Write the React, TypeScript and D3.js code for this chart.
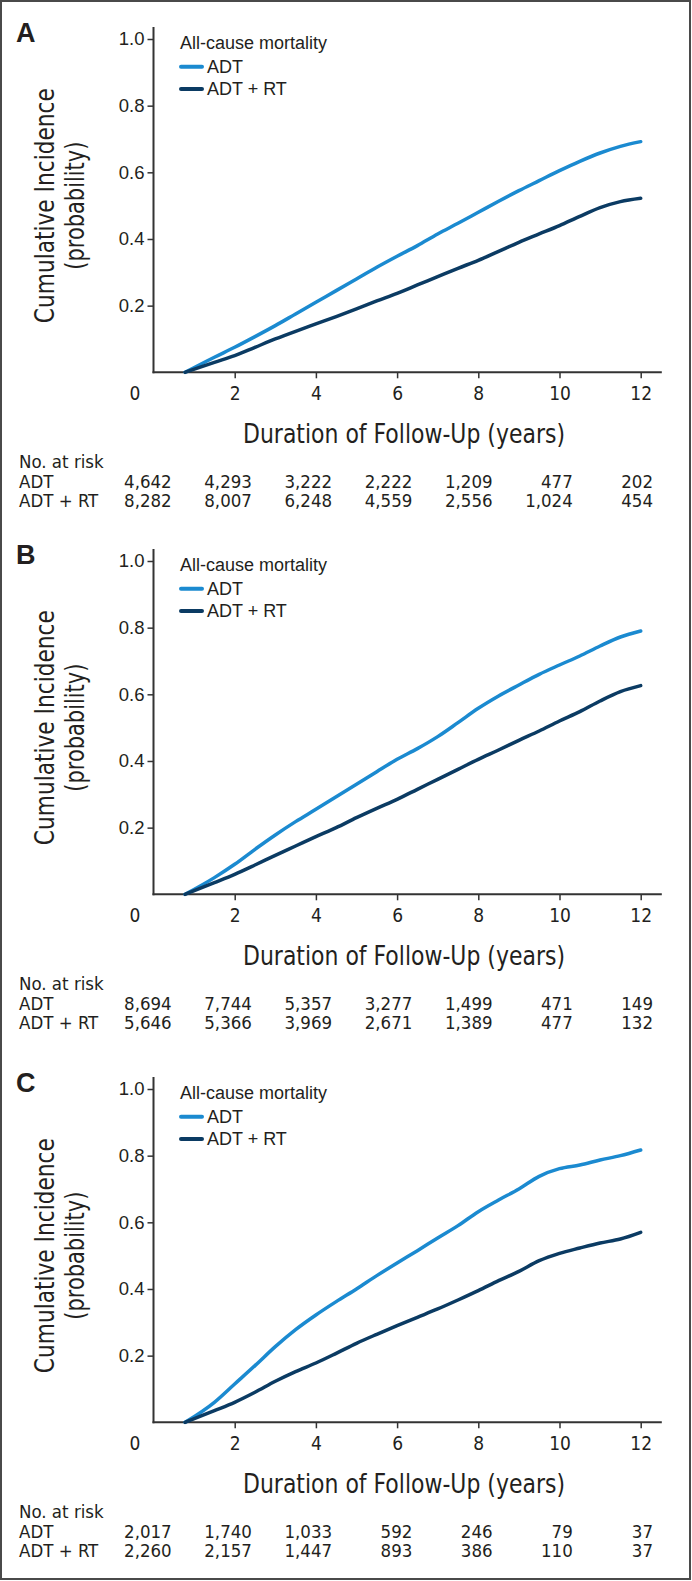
import React, { useEffect, useRef } from "react";
import * as d3 from "d3";

const times = [0.78, 1.5, 2, 2.5, 3, 3.5, 4, 4.5, 5, 5.5, 6, 6.5, 7, 7.5, 8, 8.5, 9, 9.5, 10, 10.5, 11, 11.5, 12];

const panelA_adt = [0, 0.045, 0.075, 0.107, 0.14, 0.175, 0.21, 0.245, 0.28, 0.315, 0.348, 0.38, 0.415, 0.447, 0.48, 0.513, 0.545, 0.575, 0.605, 0.633, 0.658, 0.678, 0.692];
const panelA_adtrt = [0, 0.03, 0.05, 0.075, 0.1, 0.123, 0.145, 0.167, 0.19, 0.214, 0.237, 0.262, 0.287, 0.312, 0.336, 0.363, 0.39, 0.415, 0.44, 0.468, 0.494, 0.512, 0.522];

const panelB_adt = [0, 0.05, 0.09, 0.135, 0.178, 0.218, 0.255, 0.293, 0.33, 0.368, 0.405, 0.437, 0.473, 0.515, 0.558, 0.595, 0.628, 0.66, 0.688, 0.715, 0.745, 0.772, 0.79];
const panelB_adtrt = [0, 0.035, 0.06, 0.088, 0.117, 0.145, 0.173, 0.2, 0.23, 0.258, 0.285, 0.315, 0.345, 0.375, 0.405, 0.433, 0.462, 0.49, 0.52, 0.548, 0.58, 0.608, 0.626];

const panelC_adt = [0, 0.06, 0.115, 0.17, 0.227, 0.278, 0.322, 0.362, 0.4, 0.44, 0.478, 0.515, 0.553, 0.59, 0.632, 0.667, 0.7, 0.738, 0.761, 0.772, 0.787, 0.8, 0.817];
const panelC_adtrt = [0, 0.035, 0.06, 0.09, 0.123, 0.152, 0.178, 0.207, 0.237, 0.264, 0.29, 0.315, 0.34, 0.367, 0.395, 0.425, 0.453, 0.485, 0.507, 0.523, 0.538, 0.55, 0.57];

// number at risk tables
const riskYears = [0, 2, 4, 6, 8, 10, 12];
const riskA_adt = ["4,642", "4,293", "3,222", "2,222", "1,209", "477", "202"];
const riskA_adtrt = ["8,282", "8,007", "6,248", "4,559", "2,556", "1,024", "454"];
const riskB_adt = ["8,694", "7,744", "5,357", "3,277", "1,499", "471", "149"];
const riskB_adtrt = ["5,646", "5,366", "3,969", "2,671", "1,389", "477", "132"];
const riskC_adt = ["2,017", "1,740", "1,033", "592", "246", "79", "37"];
const riskC_adtrt = ["2,260", "2,157", "1,447", "893", "386", "110", "37"];

const xTicks = [2, 4, 6, 8, 10, 12];
const yTicks = [0.2, 0.4, 0.6, 0.8, 1.0];
const seriesNames = ["ADT", "ADT + RT"];
const seriesColors = ["#1b8ad0", "#0b3b63"];

const panels = [
  { label: "A", offset: 0, curves: [panelA_adt, panelA_adtrt], risk: [riskA_adt, riskA_adtrt] },
  { label: "B", offset: 522, curves: [panelB_adt, panelB_adtrt], risk: [riskB_adt, riskB_adtrt] },
  { label: "C", offset: 1050, curves: [panelC_adt, panelC_adtrt], risk: [riskC_adt, riskC_adtrt] },
];

const NARROW = "'Liberation Sans Narrow', 'Arial Narrow', 'DejaVu Sans Condensed', sans-serif";
const REG = "'Liberation Sans', Arial, Helvetica, sans-serif";
const INK = "#231f20";

export default function App() {
  const svgRef = useRef<SVGSVGElement | null>(null);

  useEffect(() => {
    const width = 692;
    const height = 1581;
    const svg = d3.select(svgRef.current).attr("width", width).attr("height", height);
    svg.selectAll("*").remove();

    svg.append("rect").attr("width", width).attr("height", height).attr("fill", "#fff");
    svg
      .append("rect")
      .attr("x", 1)
      .attr("y", 1)
      .attr("width", width - 3)
      .attr("height", height - 3)
      .attr("fill", "none")
      .attr("stroke", "#4a4a4a")
      .attr("stroke-width", 2);

    const x = d3.scaleLinear().domain([0, 12]).range([153.5, 640.7]);
    const y = d3.scaleLinear().domain([0, 1]).range([372.3, 39]);
    // columns of the risk table (right aligned)
    const riskX = d3.scaleLinear().domain([0, 12]).range([171.7, 653]);

    panels.forEach((p) => {
      const g = svg.append("g").attr("transform", `translate(0, ${p.offset})`);

      // panel letter
      g.append("text")
        .attr("x", 16)
        .attr("y", 42)
        .attr("font-family", REG)
        .attr("font-weight", "bold")
        .attr("font-size", 27)
        .attr("fill", INK)
        .text(p.label);

      // y axis
      const yAxis = g
        .append("g")
        .attr("transform", `translate(${x(0)}, 0)`)
        .call(
          d3.axisLeft(y).tickValues(yTicks).tickSize(6).tickPadding(3).tickFormat(d3.format(".1f"))
        );
      yAxis.select(".domain").remove();
      yAxis.selectAll("line").attr("stroke", "#333").attr("stroke-width", 1.5);
      yAxis
        .selectAll("text")
        .attr("font-family", REG)
        .attr("font-size", 18.5)
        .attr("fill", INK);

      // x axis
      const xAxis = g
        .append("g")
        .attr("transform", `translate(0, ${y(0)})`)
        .call(d3.axisBottom(x).tickValues(xTicks).tickSize(6).tickPadding(8).tickFormat(d3.format("d")));
      xAxis.select(".domain").remove();
      xAxis.selectAll("line").attr("stroke", "#333").attr("stroke-width", 1.5);
      xAxis
        .selectAll("text")
        .attr("font-family", NARROW)
        .attr("font-size", 19)
        .attr("fill", INK);

      // "0" label sits left of the corner
      g.append("text")
        .attr("x", 135)
        .attr("y", y(0) + 28)
        .attr("text-anchor", "middle")
        .attr("font-family", NARROW)
        .attr("font-size", 19)
        .attr("fill", INK)
        .text("0");

      // axis lines
      g.append("line")
        .attr("x1", x(0))
        .attr("x2", x(0))
        .attr("y1", y(1.036))
        .attr("y2", y(0) + 1)
        .attr("stroke", "#333")
        .attr("stroke-width", 2);
      g.append("line")
        .attr("x1", x(0) - 1)
        .attr("x2", x(12.52))
        .attr("y1", y(0))
        .attr("y2", y(0))
        .attr("stroke", "#333")
        .attr("stroke-width", 2);

      // y label
      const midY = (y(0) + y(1)) / 2;
      g.append("text")
        .attr("transform", `translate(54, ${midY}) rotate(-90)`)
        .attr("text-anchor", "middle")
        .attr("font-family", NARROW)
        .attr("font-size", 26)
        .attr("textLength", 235)
        .attr("lengthAdjust", "spacingAndGlyphs")
        .attr("fill", INK)
        .text("Cumulative Incidence");
      g.append("text")
        .attr("transform", `translate(84, ${midY}) rotate(-90)`)
        .attr("text-anchor", "middle")
        .attr("font-family", NARROW)
        .attr("font-size", 26)
        .attr("textLength", 128)
        .attr("lengthAdjust", "spacingAndGlyphs")
        .attr("fill", INK)
        .text("(probability)");

      // x label
      g.append("text")
        .attr("x", 404)
        .attr("y", 443)
        .attr("text-anchor", "middle")
        .attr("font-family", NARROW)
        .attr("font-size", 27)
        .attr("textLength", 322)
        .attr("lengthAdjust", "spacingAndGlyphs")
        .attr("fill", INK)
        .text("Duration of Follow-Up (years)");

      // curves
      const line = d3
        .line<number>()
        .x((_, i) => x(times[i]))
        .y((d) => y(d))
        .curve(d3.curveMonotoneX);
      p.curves.forEach((vals, i) => {
        g.append("path")
          .datum(vals)
          .attr("d", line)
          .attr("fill", "none")
          .attr("stroke", seriesColors[i])
          .attr("stroke-width", 3.5)
          .attr("stroke-linejoin", "round")
          .attr("stroke-linecap", "round");
      });

      // legend
      g.append("text")
        .attr("x", 180)
        .attr("y", 49)
        .attr("font-family", REG)
        .attr("font-size", 18)
        .attr("fill", INK)
        .text("All-cause mortality");
      seriesNames.forEach((name, i) => {
        const ly = 66.7 + i * 22.3;
        g.append("line")
          .attr("x1", 181)
          .attr("x2", 202)
          .attr("y1", ly)
          .attr("y2", ly)
          .attr("stroke", seriesColors[i])
          .attr("stroke-width", 4)
          .attr("stroke-linecap", "round");
        g.append("text")
          .attr("x", 207)
          .attr("y", ly + 6)
          .attr("font-family", REG)
          .attr("font-size", 18)
          .attr("fill", INK)
          .text(name);
      });

      // number at risk
      g.append("text")
        .attr("x", 19)
        .attr("y", 467.5)
        .attr("font-family", NARROW)
        .attr("font-size", 18.5)
        .attr("fill", INK)
        .text("No. at risk");
      seriesNames.forEach((name, i) => {
        const ry = 488 + i * 19.3;
        g.append("text")
          .attr("x", 19)
          .attr("y", ry)
          .attr("font-family", NARROW)
          .attr("font-size", 18.5)
          .attr("fill", INK)
          .text(name);
        g.append("g")
          .selectAll("text")
          .data(p.risk[i])
          .enter()
          .append("text")
          .attr("x", (_, j) => riskX(riskYears[j]))
          .attr("y", ry)
          .attr("text-anchor", "end")
          .attr("font-family", NARROW)
          .attr("font-size", 18.5)
          .attr("fill", INK)
          .text((d) => d);
      });
    });
  }, []);

  return (
    <div style={{ position: "absolute", left: 0, top: 0 }}>
      <svg ref={svgRef} style={{ display: "block" }}></svg>
    </div>
  );
}
